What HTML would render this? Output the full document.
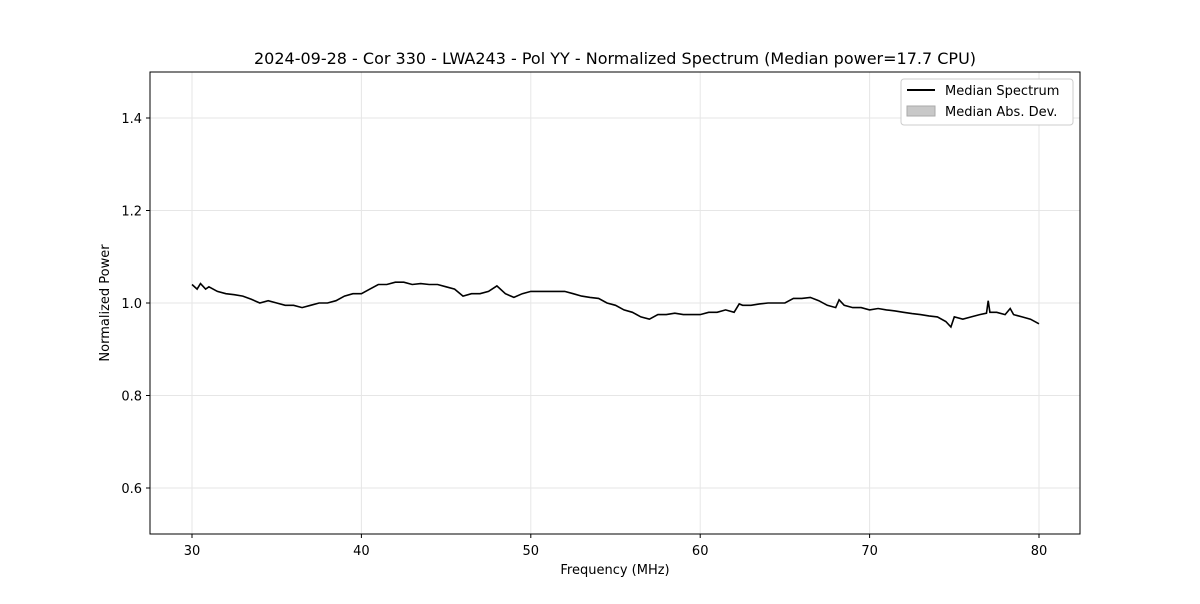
<!DOCTYPE html>
<html><head><meta charset="utf-8"><style>
body{margin:0;background:#fff;font-family:"DejaVu Sans","Liberation Sans",sans-serif;}
</style></head><body>
<svg id="chart" width="1200" height="600" xmlns="http://www.w3.org/2000/svg" font-family="DejaVu Sans, Liberation Sans, sans-serif">
<rect width="1200" height="600" fill="#fff"/>
<text x="615" y="64" font-size="16" text-anchor="middle" fill="#000">2024-09-28 - Cor 330 - LWA243 - Pol YY - Normalized Spectrum (Median power=17.7 CPU)</text>
<g id="grid"></g>
<g id="ticks" font-size="13" fill="#000"></g>
<path id="line" fill="none" stroke="#000" stroke-width="1.6"/>
<rect x="150" y="72" width="930" height="462" fill="none" stroke="#000" stroke-width="1"/>
<text x="615" y="574" font-size="13" text-anchor="middle">Frequency (MHz)</text>
<text transform="translate(109,303) rotate(-90)" font-size="13" text-anchor="middle">Normalized Power</text>
<g>
<rect x="901" y="79" width="172" height="46" fill="#fff" stroke="#ccc" rx="3"/>
<line x1="907" y1="90" x2="935" y2="90" stroke="#000" stroke-width="2"/>
<text x="945" y="95" font-size="13">Median Spectrum</text>
<rect x="907" y="106" width="28" height="10" fill="#c8c8c8" stroke="#aaa"/>
<text x="945" y="116" font-size="13">Median Abs. Dev.</text>
</g>
</svg>
<script>
const freqs=[30,30.3,30.5,30.8,31,31.5,32,32.5,33,33.5,34,34.5,35,35.5,36,36.5,37,37.5,38,38.5,39,39.5,40,40.5,41,41.5,42,42.5,43,43.5,44,44.5,45,45.5,46,46.5,47,47.5,48,48.5,49,49.5,50,50.5,51,51.5,52,52.5,53,53.5,54,54.5,55,55.5,56,56.5,57,57.5,58,58.5,59,59.5,60,60.5,61,61.5,62,62.3,62.5,63,63.5,64,64.5,65,65.5,66,66.5,67,67.5,68,68.2,68.5,69,69.5,70,70.5,71,71.5,72,72.5,73,73.5,74,74.5,74.8,75,75.5,76,76.5,76.9,77,77.1,77.5,78,78.3,78.5,79,79.5,80];
const power=[1.04,1.03,1.042,1.03,1.035,1.025,1.02,1.018,1.015,1.008,1.0,1.005,1.0,0.995,0.995,0.99,0.995,1.0,1.0,1.005,1.015,1.02,1.02,1.03,1.04,1.04,1.045,1.045,1.04,1.042,1.04,1.04,1.035,1.03,1.015,1.02,1.02,1.025,1.037,1.02,1.012,1.02,1.025,1.025,1.025,1.025,1.025,1.02,1.015,1.012,1.01,1.0,0.995,0.985,0.98,0.97,0.965,0.975,0.975,0.978,0.975,0.975,0.975,0.98,0.98,0.985,0.98,0.998,0.995,0.995,0.998,1.0,1.0,1.0,1.01,1.01,1.012,1.005,0.995,0.99,1.007,0.995,0.99,0.99,0.985,0.988,0.985,0.983,0.98,0.977,0.975,0.972,0.97,0.96,0.948,0.97,0.965,0.97,0.975,0.978,1.005,0.98,0.98,0.975,0.988,0.975,0.97,0.965,0.955];
const xTicks=[30,40,50,60,70,80];
const yTicks=[0.6,0.8,1.0,1.2,1.4];
const X=f=>192+(f-30)*16.94;
const Y=v=>118+(1.4-v)*462.5;
const ns="http://www.w3.org/2000/svg";
const grid=document.getElementById('grid'),tk=document.getElementById('ticks');
function mk(t,a,p){const e=document.createElementNS(ns,t);for(const k in a)e.setAttribute(k,a[k]);p.appendChild(e);return e;}
xTicks.forEach(t=>{const x=X(t);
const g=mk('line',{x1:x,x2:x,y1:72,y2:534,stroke:'#e6e6e6'},grid);


mk('line',{x1:x,x2:x,y1:534,y2:538,stroke:'#000'},tk);
const l=mk('text',{x:x,y:555,'text-anchor':'middle'},tk);l.textContent=t;

});
yTicks.forEach(t=>{const y=Y(t);
const g=mk('line',{x1:150,x2:1080,y1:y,y2:y,stroke:'#e6e6e6'},grid);


mk('line',{x1:146,x2:150,y1:y,y2:y,stroke:'#000'},tk);
const l=mk('text',{x:142,y:y+5,'text-anchor':'end'},tk);l.textContent=t.toFixed(1);

});
document.getElementById('line').setAttribute('d',freqs.map((f,i)=>(i?'L':'M')+X(f).toFixed(1)+','+Y(power[i]).toFixed(1)).join(''));
</script>
</body></html>
